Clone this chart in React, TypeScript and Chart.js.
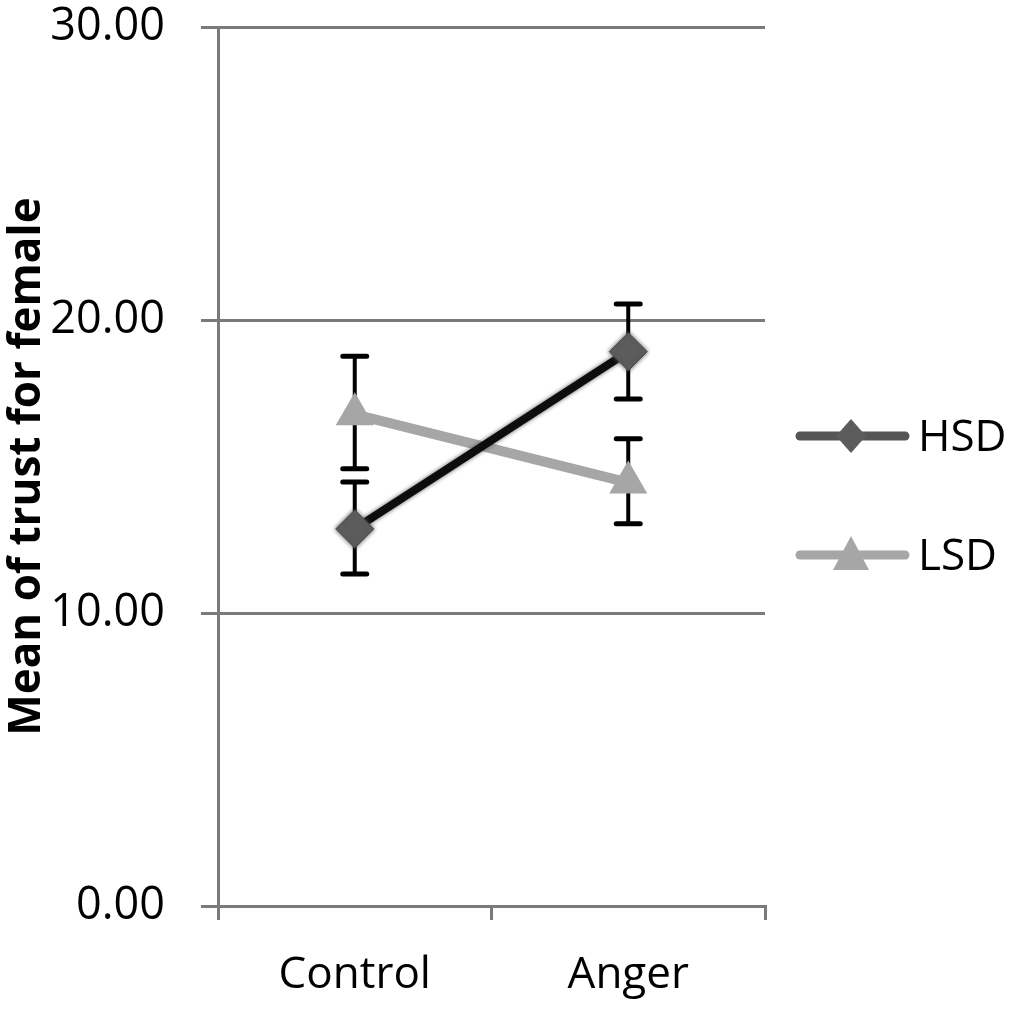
import React, { useEffect, useRef } from 'react';
import { Chart, ChartConfiguration, Plugin, registerables } from 'chart.js';

Chart.register(...registerables);

const categories = ['Control', 'Anger'];
const seriesNames = ['HSD', 'LSD'];
const hsdMeans = [12.87, 18.92];
const lsdMeans = [16.78, 14.45];
const hsdLower = [11.33, 17.3];
const hsdUpper = [14.47, 20.55];
const lsdLower = [14.92, 13.05];
const lsdUpper = [18.76, 15.95];
const yTicks = [0, 10, 20, 30];

const errorLows = [hsdLower, lsdLower];
const errorHighs = [hsdUpper, lsdUpper];

const FONT = "'Open Sans', sans-serif";

// error bars sit under the lines and markers
const errorBars: Plugin<'line'> = {
  id: 'errorBars',
  beforeDatasetsDraw(chart) {
    const { ctx, scales } = chart;
    const x = scales.x;
    const y = scales.y;
    ctx.save();
    ctx.strokeStyle = '#000';
    errorLows.forEach((lows, di) => {
      lows.forEach((lo, i) => {
        const px = x.getPixelForValue(i);
        const yLo = y.getPixelForValue(lo);
        const yHi = y.getPixelForValue(errorHighs[di][i]);
        ctx.lineWidth = 4;
        ctx.beginPath();
        ctx.moveTo(px, yLo);
        ctx.lineTo(px, yHi);
        ctx.stroke();
        ctx.lineWidth = 5;
        ctx.lineCap = 'round';
        ctx.beginPath();
        ctx.moveTo(px - 12, yLo);
        ctx.lineTo(px + 12, yLo);
        ctx.moveTo(px - 12, yHi);
        ctx.lineTo(px + 12, yHi);
        ctx.stroke();
        ctx.lineCap = 'butt';
      });
    });
    ctx.restore();
  },
  beforeDatasetDraw(chart, args) {
    if (args.index === 0) {
      const ctx = chart.ctx;
      ctx.save();
      ctx.shadowColor = 'rgba(80,80,80,0.95)';
      ctx.shadowBlur = 4;
    }
  },
  afterDatasetDraw(chart, args) {
    if (args.index === 0) chart.ctx.restore();
  },
};

// line-with-marker legend on the right
const sideLegend: Plugin<'line'> = {
  id: 'sideLegend',
  afterDraw(chart) {
    const { ctx } = chart;
    const rows = [438, 557];
    const lineColors = ['#555555', '#a6a6a6'];
    chart.data.datasets.forEach((ds: any, i) => {
      const cy = rows[i];
      const ly = cy - 2;
      ctx.save();
      ctx.strokeStyle = lineColors[i];
      ctx.lineWidth = 9;
      ctx.lineCap = 'round';
      ctx.beginPath();
      ctx.moveTo(800, ly);
      ctx.lineTo(905, ly);
      ctx.stroke();
      ctx.fillStyle = ds.pointBackgroundColor;
      ctx.beginPath();
      if (ds.pointStyle === 'rectRot') {
        ctx.moveTo(851, ly - 17);
        ctx.lineTo(851 + 15, ly);
        ctx.lineTo(851, ly + 17);
        ctx.lineTo(851 - 15, ly);
      } else {
        ctx.moveTo(851, ly - 19);
        ctx.lineTo(869, ly + 15);
        ctx.lineTo(833, ly + 15);
      }
      ctx.closePath();
      ctx.fill();
      ctx.fillStyle = '#000';
      ctx.font = `44px ${FONT}`;
      ctx.textAlign = 'left';
      ctx.textBaseline = 'middle';
      ctx.fillText(ds.label, 918, cy);
      ctx.restore();
    });
  },
};

const App = () => {
  const ref = useRef<HTMLCanvasElement | null>(null);
  const chartRef = useRef<Chart<'line'> | null>(null);

  useEffect(() => {
    const canvas = ref.current;
    if (!canvas) return;
    if (chartRef.current) chartRef.current.destroy();

    const config: ChartConfiguration<'line'> = {
      type: 'line',
      data: {
        labels: categories,
        datasets: [
          {
            label: seriesNames[0],
            data: hsdMeans,
            borderColor: '#0d0d0d',
            borderWidth: 8,
            pointStyle: 'rectRot',
            pointRadius: 19,
            pointBackgroundColor: '#5c5c5c',
            pointBorderColor: '#4a4a4a',
            pointBorderWidth: 1,
          },
          {
            label: seriesNames[1],
            data: lsdMeans,
            borderColor: '#a6a6a6',
            borderWidth: 10,
            pointStyle: 'triangle',
            pointRadius: 22,
            pointBackgroundColor: '#a6a6a6',
            pointBorderColor: '#a6a6a6',
            pointBorderWidth: 0,
          },
        ],
      },
      options: {
        animation: false,
        responsive: true,
        maintainAspectRatio: false,
        layout: { autoPadding: false, padding: { top: 27, right: 248, bottom: 0, left: 0 } },
        plugins: {
          legend: { display: false },
          tooltip: { enabled: false },
        },
        scales: {
          x: {
            type: 'category',
            offset: true,
            afterFit: (s: any) => {
              s.height = 107;
              s.paddingLeft = 0;
              s.paddingRight = 0;
            },
            grid: {
              display: true,
              drawOnChartArea: false,
              drawTicks: true,
              tickLength: 14,
              offset: true,
              color: '#7a7a7a',
              lineWidth: 3,
            },
            border: { display: true, color: '#7a7a7a', width: 3 },
            ticks: {
              color: '#000',
              padding: 29,
              font: { family: FONT, size: 44 },
            },
          },
          y: {
            min: 0,
            max: 30,
            afterFit: (s: any) => {
              s.width = 218;
              s.paddingTop = 0;
              s.paddingBottom = 0;
            },
            afterBuildTicks: (s: any) => {
              s.ticks = yTicks.map((v) => ({ value: v }));
            },
            grid: {
              color: '#7a7a7a',
              lineWidth: 3,
              tickLength: 17,
            },
            border: { display: true, color: '#7a7a7a', width: 3 },
            ticks: {
              color: '#000',
              padding: 36,
              font: { family: FONT, size: 45 },
              callback: (v) => Number(v).toFixed(2),
            },
            title: {
              display: true,
              text: 'Mean of trust for female',
              color: '#000',
              padding: { top: 1, bottom: 0 },
              font: { family: FONT, size: 44, weight: 'bold' },
            },
          },
        },
      },
      plugins: [errorBars, sideLegend],
    };

    chartRef.current = new Chart(canvas, config);

    return () => {
      chartRef.current?.destroy();
      chartRef.current = null;
    };
  }, []);

  return (
    <div style={{ position: 'absolute', left: 0, top: 0, width: 1013, height: 1013, background: '#fff' }}>
      <canvas ref={ref}></canvas>
    </div>
  );
};

export default App;
